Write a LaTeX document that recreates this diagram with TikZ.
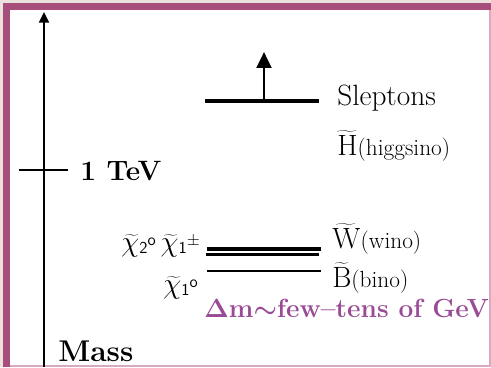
\RequirePackage{fix-cm}
\documentclass[tikz,border=0pt]{standalone}
\usepackage{xcolor}
\usepackage{tikz}
\usetikzlibrary{arrows.meta}
\definecolor{FrameBg}{HTML}{EBE2DE}
\definecolor{FramePlum}{HTML}{A84E7C}
\definecolor{FrameEdge}{HTML}{D9A9C3}
\definecolor{SplitViolet}{HTML}{994C95}
\tikzset{
  spec level/.style={line width=3pt},
  spec thin/.style={line width=1.9pt},
  spec name/.style={
    anchor=base west, inner sep=0pt, font=\fontsize{22}{24}\selectfont
  },
  spec mark/.style={
    anchor=base west, inner sep=0pt, font=\fontsize{21}{24}\selectfont\bfseries\boldmath
  },
  spec arr/.style={-{Triangle[length=12pt, width=11pt]}, line width=2.2pt}
}
\newcommand{\specsmall}[1]{{\fontsize{17.5}{20}\selectfont #1}}
\newcommand{\specidx}[2]{{\fontsize{12.5}{13}\selectfont\sffamily
  \raisebox{-1.5pt}{#1}\raisebox{4.5pt}{#2}}}

\begin{document}
\begin{tikzpicture}[x=0.75pt, y=-0.75pt]
  \fill[FrameBg] (0,0) rectangle (491,367);
  \fill[FramePlum] (3,3) rectangle (491,367);
  \fill[FrameEdge] (10,10) rectangle (491,367);
  \fill[white] (10,10) rectangle (489,365);
  \useasboundingbox (0,0) rectangle (491,367);

  \coordinate (axis foot) at (44,367);
  \coordinate (axis top) at (44,12);
  \draw[-{Triangle[length=8pt, width=7.5pt]}, line width=1.5pt]
    (axis foot) -- (axis top);

  \coordinate (tev left) at (19,170);
  \coordinate (tev right) at (68,170);
  \draw[line width=1.5pt] (tev left) -- (tev right);
  \node[spec mark] (tev) at (80,180) {1 TeV};
  \node[spec mark, font=\fontsize{22.5}{24}\selectfont\bfseries] (mass) at (58,361) {Mass};

  \coordinate (slep left) at (205,101);
  \coordinate (slep right) at (319,101);
  \coordinate (slep mid) at (264,101);
  \coordinate (slep top) at (264,52);
  \draw[spec level] (slep left) -- (slep right);
  \draw[spec arr] (slep mid) -- (slep top);
  \node[spec name] (slep) at (337,106) {Sleptons};
  \node[spec name] (higgsino) at (337,155)
    {$\widetilde{\mathrm{H}}$\specsmall{(higgsino)}};

  \coordinate (wino left) at (207,249);
  \coordinate (wino right) at (321,249);
  \coordinate (chip left) at (206,254.5);
  \coordinate (chip right) at (319,254.5);
  \coordinate (bino left) at (207,271);
  \coordinate (bino right) at (321,271);
  \draw[spec level] (wino left) -- (wino right);
  \draw[spec thin] (chip left) -- (chip right);
  \draw[spec thin] (bino left) -- (bino right);

  \node[spec name, anchor=base east] (chi upper) at (200,251)
    {$\widetilde{\chi}$\specidx{2}{o}\,$\widetilde{\chi}$\specidx{1}{$\pm$}};
  \node[spec name, anchor=base east] (chi lower) at (198,293)
    {$\widetilde{\chi}$\specidx{1}{o}};
  \node[spec name] (wino) at (332,248)
    {$\widetilde{\mathrm{W}}$\specsmall{(wino)}};
  \node[spec name] (bino) at (332,287)
    {$\widetilde{\mathrm{B}}$\specsmall{(bino)}};

  \node[spec mark, font=\fontsize{19.7}{22}\selectfont\bfseries\boldmath,
    text=SplitViolet] (split) at (204,317)
    {$\Delta$m$\sim$few--tens of GeV};
\end{tikzpicture}
\end{document}
